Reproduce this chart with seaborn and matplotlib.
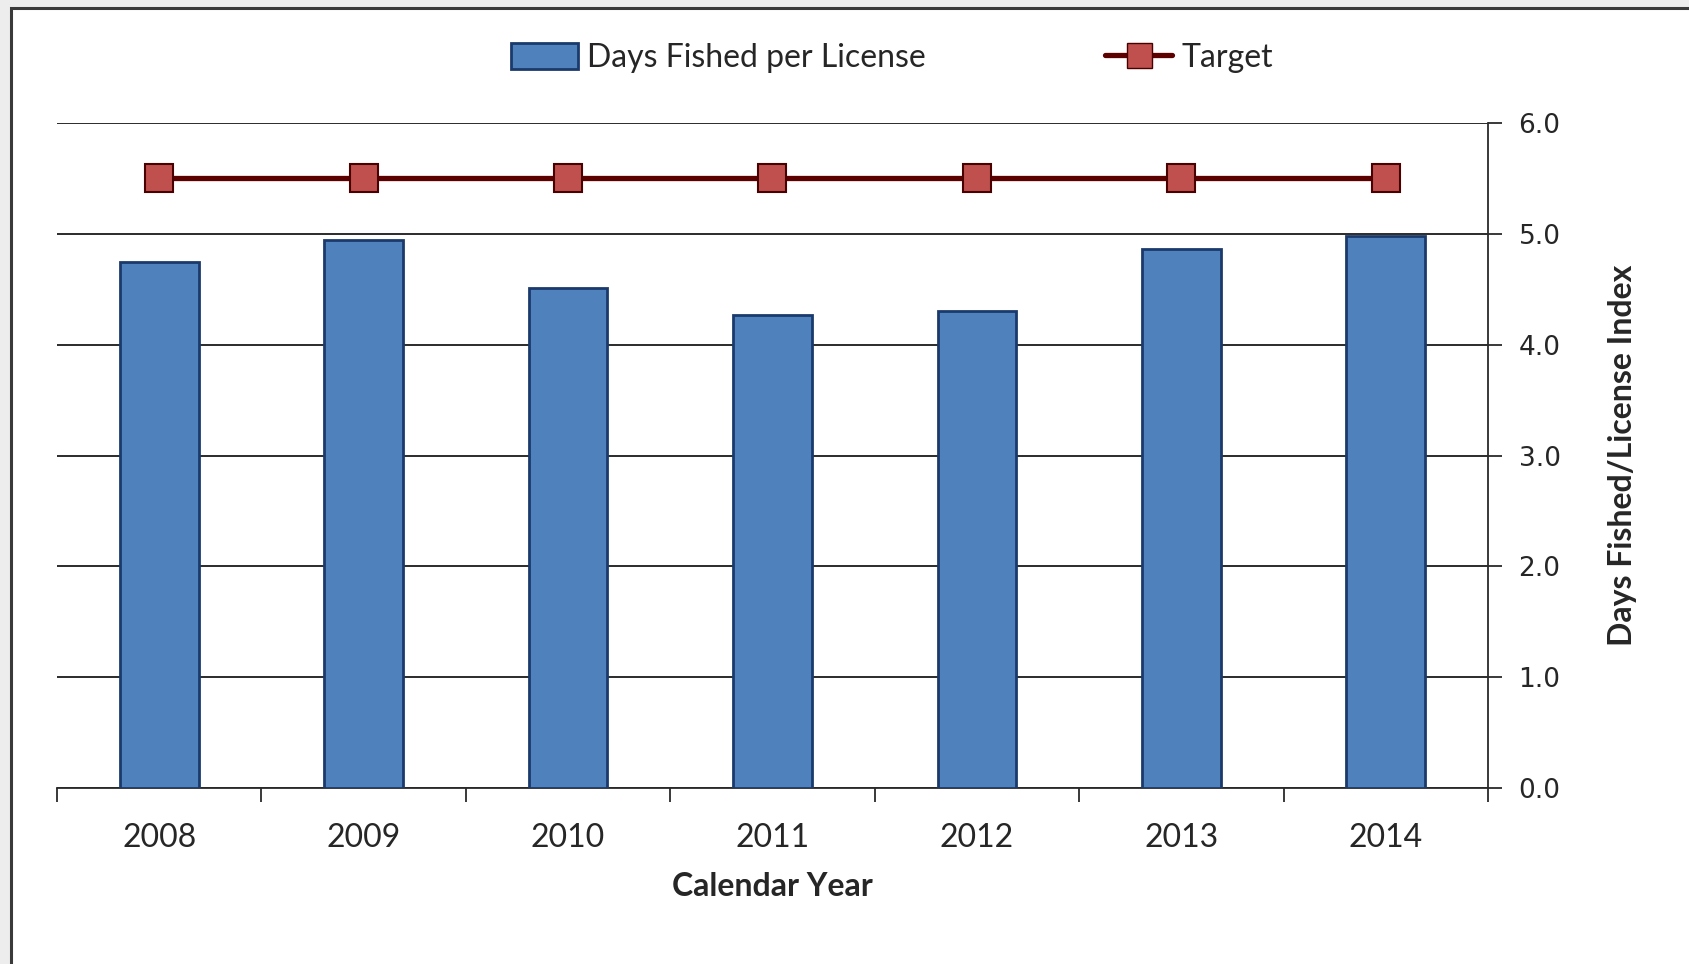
import numpy as np
import pandas as pd
import seaborn as sns
import matplotlib.pyplot as plt
from matplotlib.patches import Rectangle
from matplotlib.lines import Line2D
from matplotlib.patches import Patch

years = ["2008", "2009", "2010", "2011", "2012", "2013", "2014"]
days_fished = [4.75, 4.94, 4.51, 4.27, 4.30, 4.86, 4.98]
target = [5.5, 5.5, 5.5, 5.5, 5.5, 5.5, 5.5]
y_ticks = [0.0, 1.0, 2.0, 3.0, 4.0, 5.0, 6.0]

sns.set_style("white")
plt.rcParams["font.family"] = ["Lato", "DejaVu Sans"]

fig = plt.figure(figsize=(16.9, 9.64), dpi=100)
fig.patch.set_facecolor("#ededed")
# chart area frame (screenshot crop: only top and left edges visible)
fig.patches.append(Rectangle((11 / 1690, -0.05), 1.1, (964 - 8) / 964 + 0.05,
                             transform=fig.transFigure, facecolor="white",
                             edgecolor="#3a3a3a", linewidth=2.2, zorder=0))

ax = fig.add_axes([57 / 1690, 1 - 788 / 964, (1488 - 57) / 1690, (788 - 123) / 964])
ax.set_zorder(2)
ax.set_facecolor("none")

df = pd.DataFrame({"year": years, "days": days_fished, "target": target})
sns.barplot(data=df, x="year", y="days", color="#4F81BD", width=0.385,
            edgecolor="#1B3A6B", linewidth=2, saturation=1, ax=ax, zorder=3)
sns.lineplot(x=np.arange(len(years)), y=df["target"], color="#5C0000", linewidth=3.8,
             marker="s", markersize=20, markerfacecolor="#C0504D",
             markeredgecolor="#4a0000", markeredgewidth=1.5, ax=ax, zorder=4)

ax.set_xlim(-0.5, len(years) - 0.5)
ax.set_ylim(0, 6)
ax.set_yticks(y_ticks)
ax.set_yticklabels([f"{v:.1f}" for v in y_ticks], family=["DejaVu Sans"], fontsize=19)
ax.yaxis.tick_right()
ax.yaxis.set_label_position("right")
ax.yaxis.grid(True, color="#1a1a1a", linewidth=1.3, zorder=0)
ax.set_axisbelow(True)

ax.set_xticks(np.arange(len(years)))
ax.set_xticklabels(years, fontsize=23)
ax.set_xticks(np.arange(-0.5, len(years)), minor=True)
ax.tick_params(axis="x", which="major", bottom=False, length=0, pad=25)
ax.tick_params(axis="x", which="minor", bottom=True, length=10, width=1.3,
               direction="out", color="#2a2a2a")
ax.tick_params(axis="y", right=True, length=10, width=1.3, direction="out",
               color="#2a2a2a", pad=12)

for side in ["left", "top"]:
    ax.spines[side].set_visible(False)
for side in ["right", "bottom"]:
    ax.spines[side].set_color("#2a2a2a")
    ax.spines[side].set_linewidth(1.3)

ax.set_xlabel("Calendar Year", fontsize=23, fontweight="bold", labelpad=14)
ax.set_ylabel("Days Fished/License Index", fontsize=23, fontweight="bold", labelpad=34)

handles = [
    Patch(facecolor="#4F81BD", edgecolor="#1B3A6B", linewidth=2),
    Line2D([], [], color="#5C0000", linewidth=3.8, marker="s", markersize=18,
           markerfacecolor="#C0504D", markeredgecolor="#4a0000"),
]
fig.legend(handles, ["Days Fished per License", "Target"], loc="center",
           bbox_to_anchor=(892 / 1690, 1 - 58 / 964), ncol=2, frameon=False,
           fontsize=23, columnspacing=5.6, handlelength=2.1, handleheight=0.9,
           handletextpad=0.3)

fig.savefig("out.png", dpi=100, facecolor=fig.get_facecolor())
